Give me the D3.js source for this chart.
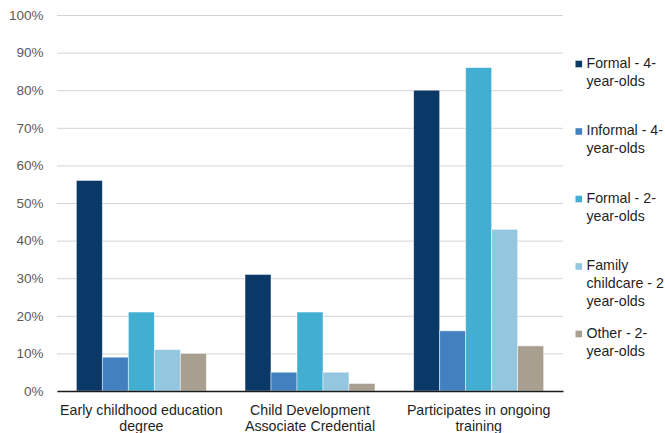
<!DOCTYPE html>
<html>
<head>
<meta charset="utf-8">
<script src="https://cdn.jsdelivr.net/npm/d3@7/dist/d3.min.js"></script>
<style>
  html, body { margin: 0; padding: 0; background: #fff; }
  svg { display: block; font-family: "Liberation Sans", Arial, sans-serif; }
</style>
</head>
<body>
<svg id="chart" width="665" height="433"></svg>
<script>
// Credential / training shares by care setting
const categories = [
  "Early childhood education degree",
  "Child Development Associate Credential",
  "Participates in ongoing training"
];
const seriesNames = [
  "Formal - 4-year-olds",
  "Informal - 4-year-olds",
  "Formal - 2-year-olds",
  "Family childcare - 2 year-olds",
  "Other - 2-year-olds"
];
const formal4   = [56, 31, 80];
const informal4 = [9, 5, 16];
const formal2   = [21, 21, 86];
const family2   = [11, 5, 43];
const other2    = [10, 2, 12];
const yTicks = [0, 10, 20, 30, 40, 50, 60, 70, 80, 90, 100];
const colors = ["#0a3867", "#4380bf", "#41aed2", "#94c6df", "#a99f91"];

const seriesValues = [formal4, informal4, formal2, family2, other2];

const svg = d3.select("#chart");
const plot = { left: 57, right: 563, top: 15, bottom: 391 };

const x0 = d3.scaleBand().domain(categories).range([plot.left, plot.right]).padding(0);
const x1 = d3.scaleBand().domain(seriesNames).range([0, x0.bandwidth()])
  .paddingInner(0).paddingOuter(0.744);
const y = d3.scaleLinear().domain([0, 100]).range([plot.bottom, plot.top]);
const color = d3.scaleOrdinal().domain(seriesNames).range(colors);

// Gridlines and percentage labels
const yAxis = d3.axisLeft(y)
  .tickValues(yTicks)
  .tickFormat(d => d + "%")
  .tickSize(-(plot.right - plot.left))
  .tickPadding(13.5);

const gy = svg.append("g")
  .attr("transform", `translate(${plot.left},0)`)
  .call(yAxis);
gy.select(".domain").remove();
gy.selectAll(".tick line").attr("stroke", "#d4d4d4").attr("stroke-width", 1);
gy.selectAll(".tick text")
  .attr("fill", "#595959")
  .style("font-size", "13.5px")
  .style("font-family", "'Liberation Sans', Arial, sans-serif");

// Bars
const groups = svg.append("g").selectAll("g")
  .data(categories)
  .join("g")
  .attr("transform", d => `translate(${x0(d)},0)`);

groups.selectAll("rect")
  .data((c, ci) => seriesNames.map((s, si) => ({ series: s, value: seriesValues[si][ci] })))
  .join("rect")
  .attr("x", d => x1(d.series))
  .attr("width", x1.bandwidth())
  .attr("y", d => y(d.value))
  .attr("height", d => y(0) - y(d.value))
  .attr("fill", d => color(d.series))
  .attr("stroke", "#ffffff")
  .attr("stroke-opacity", 0.6)
  .attr("stroke-width", 0.8);

// Category axis
const xAxis = d3.axisBottom(x0).tickSize(0).tickPadding(0);
const gx = svg.append("g")
  .attr("transform", `translate(0,${plot.bottom})`)
  .call(xAxis);
gx.select(".domain").attr("stroke", "#1a1a1a").attr("stroke-width", 1.3);
gx.selectAll(".tick text").remove();

// Measure helper for wrapping text
const measurer = svg.append("text").style("font-size", "14.2px").attr("visibility", "hidden");
function textWidth(s) {
  measurer.text(s);
  return measurer.node().getComputedTextLength();
}
function wrap(label, maxWidth, splitter) {
  const tokens = label.split(splitter);
  const lines = [];
  let current = "";
  tokens.forEach(t => {
    const trial = current + t;
    if (current && textWidth(trial.trim()) > maxWidth) {
      lines.push(current.trim());
      current = t;
    } else {
      current = trial;
    }
  });
  if (current) lines.push(current.trim());
  return lines;
}

gx.selectAll(".tick").each(function(d) {
  const lines = wrap(d, x0.step() - 4, /(?<=\s)/);
  const t = d3.select(this).append("text")
    .attr("fill", "#1f1f1f")
    .attr("text-anchor", "middle")
    .style("font-size", "14.2px")
    .style("font-family", "'Liberation Sans', Arial, sans-serif");
  lines.forEach((ln, i) => {
    t.append("tspan").attr("x", 0).attr("y", 24 + i * 16).text(ln);
  });
});

// Legend
const legendY = d3.scalePoint().domain(seriesNames).range([67.5, 337.5]);
const legend = svg.append("g").attr("transform", "translate(575.5,0)");
const items = legend.selectAll("g").data(seriesNames).join("g")
  .attr("transform", d => `translate(0,${legendY(d)})`);
items.append("rect")
  .attr("x", 0).attr("y", -6.8)
  .attr("width", 6.6).attr("height", 6.6)
  .attr("fill", d => color(d));
items.each(function(d) {
  const lines = wrap(d, 79, /(?<=[\s-])/);
  const t = d3.select(this).append("text")
    .attr("fill", "#1f1f1f")
    .style("font-size", "14.2px")
    .style("font-family", "'Liberation Sans', Arial, sans-serif");
  lines.forEach((ln, i) => {
    t.append("tspan").attr("x", 11).attr("y", i * 18).text(ln);
  });
});
measurer.remove();
</script>
</body>
</html>
